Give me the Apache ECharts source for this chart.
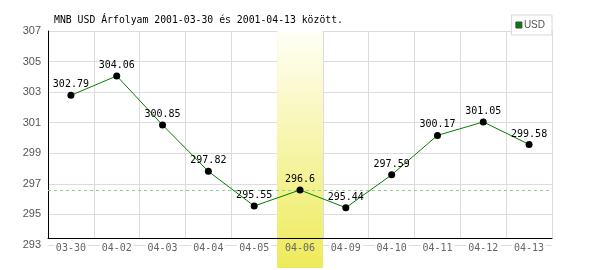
<!DOCTYPE html>
<html>
<head>
<meta charset="utf-8">
<script src="https://cdn.jsdelivr.net/npm/echarts@6/dist/echarts.min.js"></script>
<style>html,body{margin:0;padding:0;background:#fff;}#c{width:600px;height:270px;}</style>
</head>
<body>
<div id="c"></div>
<script>
var categories = ['03-30','04-02','04-03','04-04','04-05','04-06','04-09','04-10','04-11','04-12','04-13'];
var usdValues = [302.79, 304.06, 300.85, 297.82, 295.55, 296.6, 295.44, 297.59, 300.17, 301.05, 299.58];
var highlightCategory = '04-06';
var referenceValue = 296.6;
var yMin = 293, yMax = 307, yStep = 2;
var titleText = 'MNB USD Árfolyam 2001-03-30 és 2001-04-13 között.';
var seriesName = 'USD';

var bandData = categories.map(function (c) { return c === highlightCategory ? 1 : null; });
var emptyData = categories.map(function () { return null; });

var chart = echarts.init(document.getElementById('c'), null, {renderer: 'canvas'});
var gridL = 48, gridR = 48, gridT = 31;
chart.setOption({
  animation: false,
  backgroundColor: '#fff',
  title: {
    text: titleText, left: 54, top: 15, padding: 0,
    textStyle: {fontFamily: 'DejaVu Sans Mono', fontSize: 9.8, fontWeight: 'normal', color: '#000'}
  },
  legend: {
    right: gridR, top: 15, orient: 'vertical',
    backgroundColor: '#fff', borderColor: '#d8d8d8', borderWidth: 1,
    padding: [5, 7, 5, 4], itemWidth: 6, itemHeight: 6, itemGap: 0,
    icon: 'rect',
    data: [{name: seriesName, itemStyle: {color: '#008000', borderColor: '#444', borderWidth: 1}}],
    textStyle: {fontFamily: 'Liberation Sans', fontSize: 10, color: '#555', padding: [0, 0, 0, -3]}
  },
  grid: [
    {left: gridL, right: gridR, top: gridT, bottom: 25},
    {left: gridL, right: gridR, top: gridT, bottom: 32},
    {left: gridL, right: gridR, top: gridT, bottom: 32},
    {left: gridL, right: gridR, top: gridT, bottom: 2}
  ],
  xAxis: [
    {gridIndex: 0, type: 'category', data: categories, z: 4,
     axisLine: {show: false}, axisTick: {show: false}, splitLine: {show: false},
     axisLabel: {interval: 0, margin: -3, fontFamily: 'DejaVu Sans Mono', fontSize: 10, color: '#666',
       formatter: function (v) { return v === highlightCategory ? '{h|' + v + '}' : '{n|' + v + '}'; },
       rich: {
         n: {backgroundColor: '#fff', padding: [1, 2], fontFamily: 'DejaVu Sans Mono', fontSize: 10, color: '#666'},
         h: {padding: [1, 2], fontFamily: 'DejaVu Sans Mono', fontSize: 10, color: '#666'}
       }}},
    {gridIndex: 1, type: 'category', data: categories, z: 0,
     axisLine: {show: false}, axisTick: {show: false}, axisLabel: {show: false},
     splitLine: {show: true, interval: 0, lineStyle: {color: '#dcdcdc', width: 1}}},
    {gridIndex: 2, type: 'category', data: categories, z: 4,
     axisLine: {show: true, lineStyle: {color: '#000', width: 1}}, axisTick: {show: false},
     axisLabel: {show: false}, splitLine: {show: false}},
    {gridIndex: 3, type: 'category', data: categories, show: false}
  ],
  yAxis: [
    {gridIndex: 0, type: 'value', min: yMin, max: yMax, interval: yStep, z: 0,
     axisLine: {show: false}, axisTick: {show: false},
     axisLabel: {margin: 7, fontFamily: 'Liberation Sans', fontSize: 11, color: '#555'},
     splitLine: {show: true, lineStyle: {color: '#dcdcdc', width: 1}}},
    {gridIndex: 1, type: 'value', show: false, min: 0, max: 1},
    {gridIndex: 2, type: 'value', min: 0, max: 1, z: 4,
     axisLine: {show: true, lineStyle: {color: '#000', width: 1}}, axisTick: {show: false},
     axisLabel: {show: false}, splitLine: {show: false}},
    {gridIndex: 3, type: 'value', show: false, min: 0, max: 1}
  ],
  series: [
    {type: 'line', name: 'ref', xAxisIndex: 0, yAxisIndex: 0, data: emptyData, z: 1,
     silent: true, showSymbol: false, legendHoverLink: false,
     markLine: {silent: true, symbol: 'none', label: {show: false},
       lineStyle: {color: '#8fd28f', type: [3, 3], width: 1},
       data: [{yAxis: referenceValue}]}},
    {type: 'bar', name: 'band', xAxisIndex: 3, yAxisIndex: 3, data: bandData, z: 2,
     barWidth: '100%', silent: true,
     itemStyle: {color: {type: 'linear', x: 0, y: 0, x2: 0, y2: 1,
       colorStops: [{offset: 0, color: '#fffff6'}, {offset: 1, color: '#eeea5a'}]}}},
    {type: 'line', name: seriesName, xAxisIndex: 0, yAxisIndex: 0, data: usdValues, z: 5,
     lineStyle: {color: '#008000', width: 1}, itemStyle: {color: '#000'},
     symbol: 'circle', symbolSize: 7, showSymbol: true,
     label: {show: true, position: 'top', distance: 2, color: '#000',
       fontFamily: 'DejaVu Sans Mono', fontSize: 10}}
  ]
});
</script>
</body>
</html>
